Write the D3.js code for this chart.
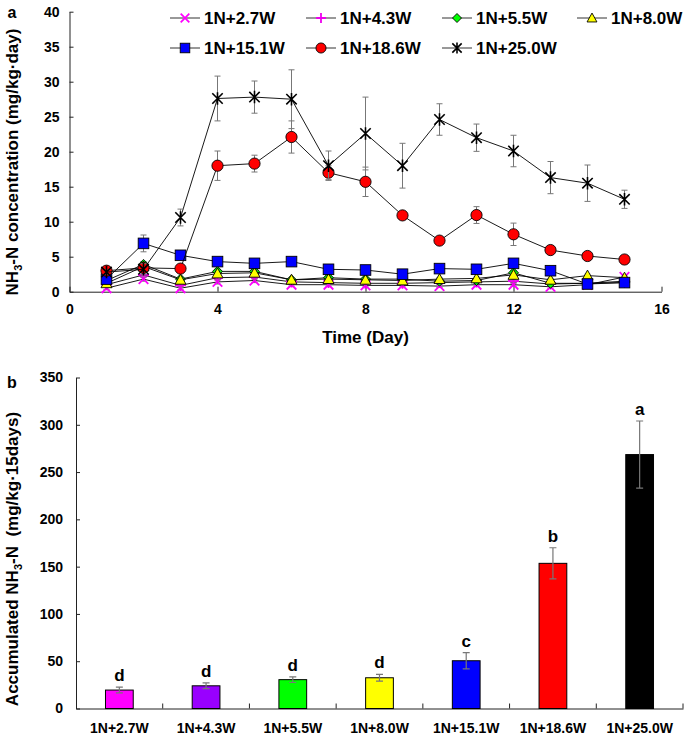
<!DOCTYPE html>
<html><head><meta charset="utf-8">
<script src="https://cdn.jsdelivr.net/npm/d3@7"></script>
<style>
body{margin:0;background:#fff}
text{font-family:"Liberation Sans",Arial,sans-serif;font-weight:bold;fill:#000}
</style>
</head><body>
<svg id="c" width="685" height="737"></svg>
<script>
// ---------- Data: panel a ----------
const days = [1,2,3,4,5,6,7,8,9,10,11,12,13,14,15];
const seriesNames = ["1N+2.7W","1N+4.3W","1N+5.5W","1N+8.0W","1N+15.1W","1N+18.6W","1N+25.0W"];
const v27  = [0.5,1.8,0.5,1.4,1.6,1.0,1.0,0.9,0.9,0.8,1.0,1.0,0.7,1.0,2.1];
const v43  = [1.0,2.4,0.9,2.0,2.1,1.4,1.3,1.2,1.2,1.3,1.4,1.5,1.1,1.2,1.5];
const v55  = [1.6,3.9,1.8,2.9,2.9,1.7,2.0,1.8,1.8,1.5,1.6,2.7,1.2,1.2,1.3];
const v80  = [1.2,3.6,1.7,2.6,2.7,1.7,1.8,1.7,1.6,1.8,1.9,2.4,1.7,2.3,2.0];
const v151 = [1.8,6.9,5.2,4.3,4.05,4.3,3.2,3.1,2.5,3.3,3.2,4.05,3.0,1.1,1.3];
const v186 = [3.0,3.4,3.3,18.0,18.3,22.1,17.0,15.7,10.9,7.3,10.95,8.2,5.95,5.1,4.6];
const v250 = [2.8,3.2,10.6,27.6,27.8,27.5,18.0,22.6,18.0,24.6,22.0,20.1,16.3,15.5,13.2];
const e27  = [0.2,0.3,0.2,0.3,0.3,0.2,0.2,0.2,0.2,0.2,0.2,0.2,0.2,0.2,0.3];
const e43  = [0.2,0.3,0.2,0.3,0.3,0.2,0.2,0.2,0.2,0.2,0.2,0.2,0.2,0.2,0.3];
const e55  = [0.2,0.4,0.2,0.3,0.3,0.2,0.2,0.2,0.2,0.2,0.2,0.3,0.2,0.2,0.2];
const e80  = [0.2,0.4,0.2,0.3,0.3,0.2,0.2,0.2,0.2,0.2,0.2,0.3,0.2,0.2,0.2];
const e151 = [0.3,1.2,0.4,0.4,0.3,0.3,0.4,0.4,0.3,0.3,0.3,0.3,0.3,0.2,0.2];
const e186 = [0.3,0.5,0.3,2.1,1.2,2.3,1.0,2.1,0.5,0.4,1.2,1.6,0.4,0.4,0.6];
const e250 = [0.3,0.8,1.2,3.2,2.3,4.2,2.1,5.2,3.2,2.25,1.95,2.25,2.3,2.6,1.3];
const xTicksA = [0,4,8,12,16];
const yTicksA = [0,5,10,15,20,25,30,35,40];

// ---------- Data: panel b ----------
const categories = ["1N+2.7W","1N+4.3W","1N+5.5W","1N+8.0W","1N+15.1W","1N+18.6W","1N+25.0W"];
const accum      = [19.5,24,30.5,32.5,50.5,153.5,268.5];
const accumErr   = [3,3,3,3.5,8.5,16.5,35.5];
const sigLetters = ["d","d","d","d","c","b","a"];
const yTicksB = [0,50,100,150,200,250,300,350];

// ---------- Styles ----------
const markerTypes = ["x","plus","diamond","triangle","square","circle","star"];
const markerFill  = ["#FF00FF","#EE00EE","#00FF00","#FFFF00","#0000FF","#FF0000","#000000"];
const barColors   = ["#FF00FF","#9900FF","#00FF00","#FFFF00","#0000FF","#FF0000","#000000"];

const values = [v27,v43,v55,v80,v151,v186,v250];
const errs   = [e27,e43,e55,e80,e151,e186,e250];

const svg = d3.select("#c");

function marker(g, type, cx, cy, k) {
  k = k || 1;
  const fill = markerFill[markerTypes.indexOf(type)];
  if (type === "x") {
    const s = 4.8*k;
    g.append("path").attr("d",`M${cx-s},${cy-s}L${cx+s},${cy+s}M${cx-s},${cy+s}L${cx+s},${cy-s}`)
      .attr("stroke",fill).attr("stroke-width",1.8).attr("fill","none");
  } else if (type === "plus") {
    const s = 5.5*k;
    g.append("path").attr("d",`M${cx-s},${cy}L${cx+s},${cy}M${cx},${cy-s}L${cx},${cy+s}`)
      .attr("stroke",fill).attr("stroke-width",1.8).attr("fill","none");
  } else if (type === "diamond") {
    const s = 5*k;
    g.append("path").attr("d",`M${cx},${cy-s}L${cx+s},${cy}L${cx},${cy+s}L${cx-s},${cy}Z`)
      .attr("fill",fill).attr("stroke","#000").attr("stroke-width",0.9);
  } else if (type === "triangle") {
    const s = 5.5*k;
    g.append("path").attr("d",`M${cx},${cy-s}L${cx+s},${cy+s*0.8}L${cx-s},${cy+s*0.8}Z`)
      .attr("fill",fill).attr("stroke","#000").attr("stroke-width",0.9);
  } else if (type === "square") {
    const s = 5.3*k;
    g.append("rect").attr("x",cx-s).attr("y",cy-s).attr("width",2*s).attr("height",2*s)
      .attr("fill",fill).attr("stroke","#000").attr("stroke-width",0.9);
  } else if (type === "circle") {
    g.append("circle").attr("cx",cx).attr("cy",cy).attr("r",5.6*k)
      .attr("fill",fill).attr("stroke","#000").attr("stroke-width",0.9);
  } else if (type === "star") {
    const s = 5.2*k;
    g.append("path").attr("d",`M${cx-s},${cy-s}L${cx+s},${cy+s}M${cx-s},${cy+s}L${cx+s},${cy-s}M${cx},${cy-s*1.2}L${cx},${cy+s*1.2}`)
      .attr("stroke","#000").attr("stroke-width",1.6).attr("fill","none");
  }
}

// ================= Panel a =================
const xA = d3.scaleLinear().domain([0,16]).range([69.5,661.5]);
const yA = d3.scaleLinear().domain([0,40]).range([291.7,11.7]);

const axA_y = svg.append("g").attr("transform",`translate(${xA(0)},0)`)
  .call(d3.axisLeft(yA).tickValues(yTicksA).tickSize(-4).tickSizeOuter(0).tickPadding(10));
const axA_x = svg.append("g").attr("transform",`translate(0,${yA(0)})`)
  .call(d3.axisBottom(xA).tickValues(xTicksA).tickSize(-5).tickSizeOuter(0).tickPadding(12));
[axA_y, axA_x].forEach(a => {
  a.selectAll("text").style("font-size","14px").style("font-family","Liberation Sans, Arial, sans-serif").style("font-weight","bold").attr("fill","#000");
  a.selectAll("line,path").attr("stroke","#222");
});

const lineA = d3.line().x((d,i)=>xA(days[i])).y(d=>yA(d));
const plotA = svg.append("g");
values.forEach((vals, si) => {
  const g = plotA.append("g");
  g.append("path").attr("d", lineA(vals)).attr("fill","none").attr("stroke","#000").attr("stroke-width",0.9);
  vals.forEach((v,i) => {
    const x = xA(days[i]), y1 = yA(v + errs[si][i]), y2 = yA(v - errs[si][i]);
    g.append("path").attr("d",`M${x},${y1}L${x},${y2}M${x-3},${y1}L${x+3},${y1}M${x-3},${y2}L${x+3},${y2}`)
      .attr("stroke","#777").attr("stroke-width",1).attr("fill","none");
  });
  vals.forEach((v,i) => marker(g, markerTypes[si], xA(days[i]), yA(v), 1));
});

// axis titles panel a
svg.append("text").attr("x",365.5).attr("y",343).attr("text-anchor","middle")
  .style("font-size","17px").text("Time (Day)");
const ttlA = svg.append("text").attr("transform","translate(18,162) rotate(-90)")
  .attr("text-anchor","middle").style("font-size","17px");
ttlA.append("tspan").text("NH");
ttlA.append("tspan").attr("dy",4).style("font-size","11px").text("3");
ttlA.append("tspan").attr("dy",-4).text("-N concentration (mg/kg·day)");
svg.append("text").attr("x",12).attr("y",18).attr("text-anchor","middle").style("font-size","16px").text("a");

// legend
const legCols = [170,306,442,577];
const legRows = [18,48];
const legG = svg.append("g");
seriesNames.forEach((name,i) => {
  const lx = legCols[i % 4], ly = legRows[Math.floor(i / 4)];
  legG.append("line").attr("x1",lx).attr("x2",lx+30).attr("y1",ly).attr("y2",ly)
    .attr("stroke","#333").attr("stroke-width",1);
  marker(legG, markerTypes[i], lx+15, ly, 0.9);
  legG.append("text").attr("x",lx+34).attr("y",ly+6).style("font-size","17px").text(name);
});

// ================= Panel b =================
const xB = d3.scaleBand().domain(categories).range([76,683]).padding(0);
const yB = d3.scaleLinear().domain([0,350]).range([708.5,377.5]);

const axB_y = svg.append("g").attr("transform",`translate(${xB.range()[0]},0)`)
  .call(d3.axisLeft(yB).tickValues(yTicksB).tickSize(-4).tickSizeOuter(0).tickPadding(13));
const axB_x = svg.append("g").attr("transform",`translate(0,${yB(0)})`)
  .call(d3.axisBottom(xB).tickSize(0).tickPadding(14.5));
[axB_y, axB_x].forEach(a => {
  a.selectAll("text").style("font-size","14px").style("font-family","Liberation Sans, Arial, sans-serif").style("font-weight","bold").attr("fill","#000");
  a.selectAll("line,path").attr("stroke","#222");
});
// category boundary ticks
svg.append("g").selectAll("line").data(categories).join("line")
  .attr("x1",d=>xB(d)+xB.bandwidth()).attr("x2",d=>xB(d)+xB.bandwidth())
  .attr("y1",yB(0)).attr("y2",yB(0)-5).attr("stroke","#222");

const bw = xB.bandwidth()*0.32;
const barsG = svg.append("g");
categories.forEach((c,i) => {
  const cx = xB(c) + xB.bandwidth()/2;
  barsG.append("rect").attr("x",cx-bw/2).attr("y",yB(accum[i])).attr("width",bw)
    .attr("height",yB(0)-yB(accum[i])).attr("fill",barColors[i]).attr("stroke","#000").attr("stroke-width",1);
  const y1 = yB(accum[i]+accumErr[i]), y2 = yB(accum[i]-accumErr[i]);
  barsG.append("path").attr("d",`M${cx},${y1}L${cx},${y2}M${cx-3.5},${y1}L${cx+3.5},${y1}M${cx-3.5},${y2}L${cx+3.5},${y2}`)
    .attr("stroke","#777").attr("stroke-width",1.2).attr("fill","none");
  barsG.append("text").attr("x",cx).attr("y",y1-6).attr("text-anchor","middle")
    .style("font-size","17px").text(sigLetters[i]);
});

const ttlB = svg.append("text").attr("transform","translate(18,559) rotate(-90)")
  .attr("text-anchor","middle").style("font-size","17px");
ttlB.append("tspan").text("Accumulated NH");
ttlB.append("tspan").attr("dy",4).style("font-size","11px").text("3");
ttlB.append("tspan").attr("dy",-4).attr("xml:space","preserve").text("-N\u00A0\u00A0(mg/kg·15days)");
svg.append("text").attr("x",12).attr("y",388).attr("text-anchor","middle").style("font-size","16px").text("b");
</script>
</body></html>
